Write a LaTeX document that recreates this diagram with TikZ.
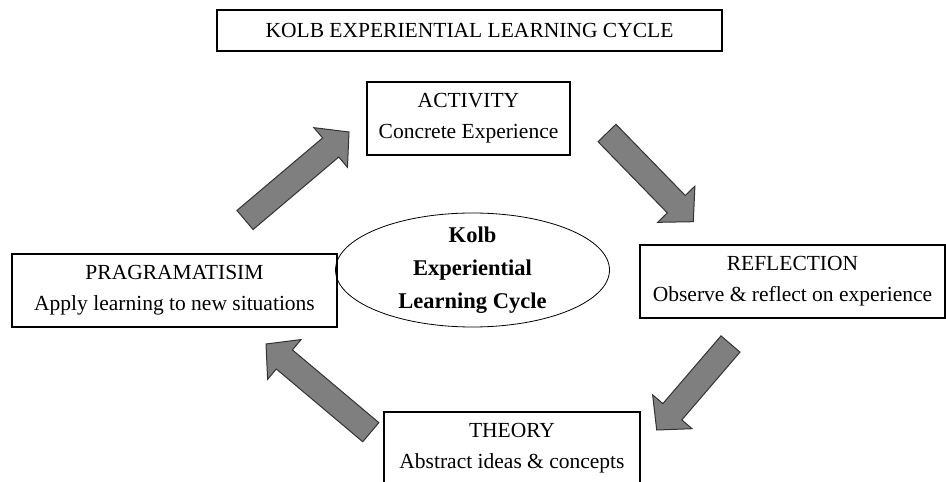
\documentclass[tikz,border=0pt]{standalone}
\usepackage{fontspec}
\setmainfont{Liberation Serif}
\usepackage{xcolor}
\usetikzlibrary{calc,shapes.geometric}

\definecolor{arrowgray}{HTML}{7F7F7F}
\definecolor{arrowline}{HTML}{333333}

% fat block arrow from tail #1 to tip #2
\newcommand{\blockarrow}[2]{%
  \path[draw=arrowline,fill=arrowgray,line width=1pt,line join=miter]
    let \p1=($(#2)-(#1)$), \n1={atan2(\y1,\x1)}, \n2={veclen(\x1,\y1)-24} in
    ($(#1)+(\n1+90:12.5)$) -- ($(#1)+(\n1:\n2)+(\n1+90:12.5)$)
    -- ($(#1)+(\n1:\n2)+(\n1+90:26)$) -- (#2)
    -- ($(#1)+(\n1:\n2)+(\n1-90:26)$) -- ($(#1)+(\n1:\n2)+(\n1-90:12.5)$)
    -- ($(#1)+(\n1-90:12.5)$) -- cycle;}

\begin{document}
\begin{tikzpicture}[x=1pt,y=1pt]
  \tikzstyle{stage}=[draw,line width=1.1pt,minimum height=73pt,inner sep=0pt,
                     align=center,font=\fontsize{21.5}{31}\selectfont]
  \tikzstyle{heading}=[draw,line width=1.1pt,minimum width=505pt,minimum height=41pt,
                       inner sep=0pt,font=\fontsize{21.5}{31}\selectfont]
  \tikzstyle{hub}=[align=center,inner sep=0pt,font=\bfseries\fontsize{22.5}{33}\selectfont]

  \useasboundingbox (0,0) rectangle (946,482);
  \clip (0,0) rectangle (946,482);

  \node[heading] (title) at (469.5,451.5) {KOLB EXPERIENTIAL LEARNING CYCLE};

  \node[stage,minimum width=203pt] (act)  at (468.5,363.5) {ACTIVITY\\Concrete Experience};
  \node[stage,minimum width=305pt] (refl) at (792.5,200.5) {REFLECTION\\Observe \& reflect on experience};
  \node[stage,minimum width=256pt] (theo) at (512,33.5)    {THEORY\\Abstract ideas \& concepts};
  \node[stage,minimum width=325pt] (prag) at (174.5,191.5) {PRAGRAMATISIM\\Apply learning to new situations};

  \coordinate (mid) at (472.5,212);
  \draw[line width=0.8pt] (mid) ellipse [x radius=137,y radius=57];
  \node[hub] (kolb) at (mid) {Kolb\\Experiential\\Learning Cycle};

  \coordinate (p2a) at (245,262);   \coordinate (a2p) at (349,350);
  \coordinate (a2r) at (607,349);   \coordinate (r2a) at (693.3,260.3);
  \coordinate (r2t) at (730.5,138); \coordinate (t2r) at (656.7,52);
  \coordinate (t2p) at (370.8,49.8);\coordinate (p2t) at (266,138);

  \blockarrow{p2a}{a2p}
  \blockarrow{a2r}{r2a}
  \blockarrow{r2t}{t2r}
  \blockarrow{t2p}{p2t}
\end{tikzpicture}
\end{document}
